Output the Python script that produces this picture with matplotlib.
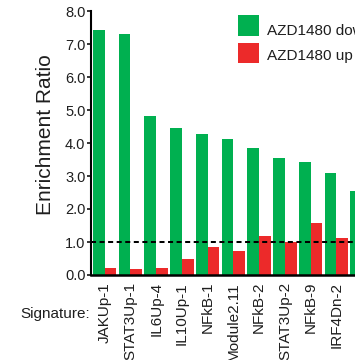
import numpy as np
import matplotlib
matplotlib.use("Agg")
import matplotlib.pyplot as plt
from matplotlib.patches import Rectangle

plt.rcParams["font.family"] = ["Liberation Sans", "DejaVu Sans"]

# Enrichment ratios per gene signature
signatures = ["JAKUp-1", "STAT3Up-1", "IL6Up-4", "IL10Up-1", "NFkB-1",
              "Module2.11", "NFkB-2", "STAT3Up-2", "NFkB-9", "IRF4Dn-2", ""]
down_vals = [7.42, 7.30, 4.82, 4.45, 4.27, 4.12, 3.85, 3.55, 3.42, 3.09, 2.55]
up_vals = [0.21, 0.18, 0.21, 0.48, 0.85, 0.73, 1.18, 1.00, 1.58, 1.12, np.nan]
series_names = ["AZD1480 down", "AZD1480 up"]
y_ticks = [0.0, 1.0, 2.0, 3.0, 4.0, 5.0, 6.0, 7.0, 8.0]

GREEN = "#00B050"
RED = "#EC2A2A"
INK = "#1E1E1E"

W, H, DPI = 355, 360, 100
fig = plt.figure(figsize=(W / DPI, H / DPI), dpi=DPI)

px_per_unit = 25.75
x_lo, x_hi = -0.03, 11.5
ax_left, ax_bottom, ax_top = 91, 85, 349
ax = fig.add_axes([ax_left / W, ax_bottom / H,
                   px_per_unit * (x_hi - x_lo) / W, (ax_top - ax_bottom) / H])

x = np.arange(len(signatures))
bw = 0.46
ax.bar(x + 0.04, down_vals, width=bw, align="edge", color=GREEN,
       label=series_names[0], zorder=2)
ax.bar(x + 0.04 + bw, up_vals, width=bw, align="edge", color=RED,
       label=series_names[1], zorder=2)

# reference level at ratio 1
ax.axhline(1.0, color="black", lw=1.45, linestyle=(0, (2.5, 1.75)), zorder=3)

ax.set_xlim(x_lo, x_hi)
ax.set_ylim(0, 8)
ax.set_yticks(y_ticks)
ax.set_yticklabels([f"{v:.1f}" for v in y_ticks])
ax.set_xticks(x + 0.04 + bw)
ax.set_xticklabels(signatures, rotation=90, ha="center", va="top")

for side in ("top", "right"):
    ax.spines[side].set_visible(False)
ax.spines["left"].set_linewidth(1.5)
ax.spines["bottom"].set_linewidth(1.8)
ax.spines["left"].set_color("black")
ax.spines["bottom"].set_color("black")

ax.tick_params(axis="y", direction="out", length=3.0, width=1.1,
               pad=1.0, labelsize=10.5, labelcolor=INK)
ax.tick_params(axis="x", length=0, pad=5.0, labelsize=11, labelcolor=INK)

ax.set_ylabel("Enrichment Ratio", fontsize=15, color=INK)
ax.yaxis.set_label_coords(55 / W, 1 - 135 / H, transform=fig.transFigure)

fig.text(90 / W, 1 - 318 / H, "Signature:", ha="right", va="baseline",
         fontsize=11, color=INK)

# legend: colour swatches with series names (pixel layout in figure space)
swatch_x, swatch_w = 238, 21
rows = [(15, 36, 35), (43, 63, 60)]  # swatch top, swatch bottom, text baseline
for (top, bottom, base), name, col in zip(rows, series_names, [GREEN, RED]):
    fig.add_artist(Rectangle((swatch_x / W, 1 - bottom / H),
                             swatch_w / W, (bottom - top) / H,
                             transform=fig.transFigure, color=col, lw=0))
    fig.text(267 / W, 1 - base / H, name, ha="left", va="baseline",
             fontsize=11, color=INK)

fig.savefig("out.png", dpi=DPI)
